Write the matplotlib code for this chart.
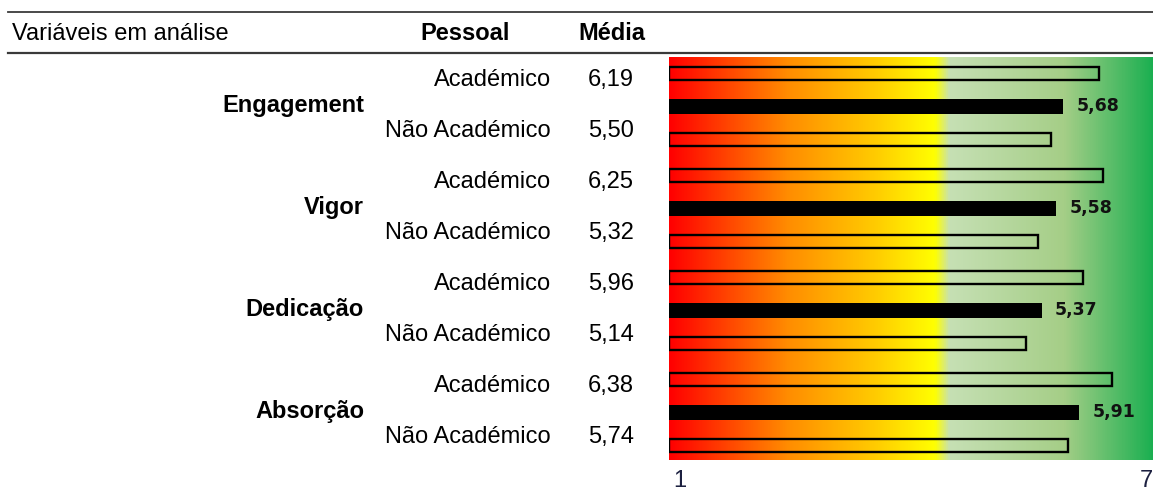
import numpy as np
import matplotlib.pyplot as plt
from matplotlib.colors import LinearSegmentedColormap

plt.rcParams['font.family'] = ['Liberation Sans Narrow', 'Liberation Sans', 'DejaVu Sans']

# dados
variaveis = ['Engagement', 'Vigor', 'Dedicação', 'Absorção']
pessoal = ['Académico', 'Não Académico']
media_academico = [6.19, 6.25, 5.96, 6.38]
media_nao_academico = [5.50, 5.32, 5.14, 5.74]
media_geral = [5.68, 5.58, 5.37, 5.91]
escala = ['1', '7']

W, H = 1153, 497
fs = 17
fig = plt.figure(figsize=(W / 100, H / 100), dpi=100)

# eixo de fundo em pixeis para a tabela
bg = fig.add_axes([0, 0, 1, 1])
bg.set_xlim(0, W)
bg.set_ylim(H, 0)
bg.axis('off')

bg.plot([8, W], [12, 12], color='#3a3a3a', lw=1.3)
bg.plot([8, W], [53, 53], color='#3a3a3a', lw=1.6)
bg.text(12, 34, 'Variáveis em análise', ha='left', va='center', fontsize=fs)
bg.text(465, 34, 'Pessoal', ha='center', va='center', fontsize=fs, fontweight='bold')
bg.text(612, 34, 'Média', ha='center', va='center', fontsize=fs, fontweight='bold')

for g, nome in enumerate(variaveis):
    y0 = 80 + g * 102
    bg.text(364, y0 + 25.5, nome, ha='right', va='center', fontsize=fs, fontweight='bold')
    vals = [media_academico[g], media_nao_academico[g]]
    for k, (p, v) in enumerate(zip(pessoal, vals)):
        yy = y0 + k * 51
        bg.text(551, yy, p, ha='right', va='center', fontsize=fs)
        bg.text(611, yy, f'{v:.2f}'.replace('.', ','), ha='center', va='center', fontsize=fs)

# grafico de barras com fundo em gradiente
ax = fig.add_axes([669 / W, 1 - 460 / H, 486 / W, (460 - 57) / H])
ytop, ybot = -0.5, (460 - 73.5) / 33
ax.set_xlim(0, 7)
ax.set_ylim(ybot, ytop)
ax.set_axis_off()

stops = [(0.0, (255, 0, 0)), (1.7, (255, 140, 0)), (3.0, (255, 205, 0)),
         (3.83, (255, 255, 0)), (4.05, (198, 224, 180)), (5.7, (165, 206, 135)),
         (7.0, (25, 175, 80))]
cm = LinearSegmentedColormap.from_list(
    'grad', [(s / 7, tuple(c / 255 for c in col)) for s, col in stops])
grad = np.linspace(0, 1, 800).reshape(1, -1)
ax.imshow(grad, extent=(0, 7, ybot, ytop), aspect='auto', cmap=cm, zorder=0)

step = 102 / 33
pos = np.arange(len(variaveis)) * step
ax.barh(pos, media_academico, height=0.38, fill=False, edgecolor='black', lw=1.7, zorder=2)
ax.barh(pos + 1, media_geral, height=0.45, color='black', zorder=2)
ax.barh(pos + 2, media_nao_academico, height=0.38, fill=False, edgecolor='black', lw=1.7, zorder=2)

for p, v in zip(pos + 1, media_geral):
    ax.annotate(f'{v:.2f}'.replace('.', ','), (v, p), xytext=(13, 0),
                textcoords='offset pixels', ha='left', va='center',
                fontsize=12.5, fontweight='bold', family='DejaVu Sans', color='#111111')

bg.text(673, 481, escala[0], ha='left', va='center', fontsize=fs, color='#1c2040')
bg.text(1153, 481, escala[1], ha='right', va='center', fontsize=fs, color='#1c2040')

fig.savefig('out.png', dpi=100)
